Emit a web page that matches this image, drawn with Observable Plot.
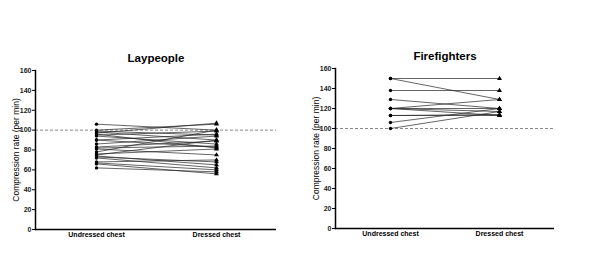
<!DOCTYPE html>
<html>
<head>
<meta charset="utf-8">
<script src="https://cdn.jsdelivr.net/npm/d3@7"></script>
<script src="https://cdn.jsdelivr.net/npm/@observablehq/plot@0.6"></script>
<style>
  html, body { margin: 0; padding: 0; background: white; }
  #wrap { position: relative; width: 600px; height: 277px; overflow: hidden; }
  #left, #right { position: absolute; top: 0; }
  #left { left: 0; }
  #right { left: 300px; }
</style>
</head>
<body>
<div id="wrap"><div id="left"></div><div id="right"></div></div>
<script>
const categories = ["Undressed chest", "Dressed chest"];
const yTicks = [0, 20, 40, 60, 80, 100, 120, 140, 160];
const yLabel = "Compression rate (per min)";
const refLine = 100;

const titleLay = "Laypeople";
const layUndressed = [106, 100, 99, 98, 97, 96, 95, 94, 90, 90, 86, 83, 82, 81, 78, 76, 75, 74, 73, 72, 68, 67, 66, 62];
const layDressed   = [100, 106, 95, 90, 107, 82, 99, 86, 96, 83, 94, 89, 84, 75, 100, 81, 90, 65, 68, 62, 70, 60, 56, 58];

const titleFire = "Firefighters";
const fireUndressed = [150, 150, 138, 129, 120, 120, 120, 120, 113, 113, 106, 100];
const fireDressed   = [150, 129, 138, 120, 129, 117, 113, 120, 114, 113, 120, 117];

function panel({title, undressed, dressed, marginTop, marginBottom, marginRight}) {
  const rows = undressed.flatMap((u, i) => [
    {id: i, cond: categories[0], rate: u},
    {id: i, cond: categories[1], rate: dressed[i]}
  ]);
  return Plot.plot({
    width: 300, height: 277,
    marginLeft: 35, marginRight, marginTop, marginBottom,
    style: {fontFamily: "'Liberation Sans', Arial, sans-serif", background: "white", color: "black"},
    x: {type: "point", domain: categories, padding: 0.5, label: null},
    y: {domain: [0, 160], label: null},
    marks: [
      Plot.ruleY([refLine], {stroke: "#888", strokeWidth: 1, strokeDasharray: "3,2"}),
      Plot.line(rows, {x: "cond", y: "rate", z: "id", stroke: "#222", strokeWidth: 0.7}),
      Plot.dot(rows.filter(d => d.cond === categories[0]), {x: "cond", y: "rate", r: 1.7, fill: "black", symbol: "circle"}),
      Plot.dot(rows.filter(d => d.cond === categories[1]), {x: "cond", y: "rate", r: 1.8, fill: "black", symbol: "triangle"}),
      Plot.axisY({ticks: yTicks, tickSize: 3, tickPadding: 1, fontSize: 7, fontWeight: "bold", fill: "#222", label: null}),
      Plot.axisX({tickSize: 0, tickPadding: 3, fontSize: 7, fontWeight: "bold", label: null}),
      Plot.frame({anchor: "left", stroke: "black", strokeWidth: 1.5}),
      Plot.ruleY([0], {stroke: "black", strokeWidth: 1.5}),
      Plot.text([title], {frameAnchor: "top", textAnchor: "middle", lineAnchor: "middle", dy: -12, fontSize: 11.5, fontWeight: "bold"}),
      Plot.text([yLabel], {frameAnchor: "left", textAnchor: "middle", lineAnchor: "middle", dx: -19, rotate: -90, fontSize: 8.5})
    ]
  });
}

document.getElementById("left").append(panel({
  title: titleLay, undressed: layUndressed, dressed: layDressed,
  marginTop: 70, marginBottom: 48, marginRight: 24
}));
document.getElementById("right").append(panel({
  title: titleFire, undressed: fireUndressed, dressed: fireDressed,
  marginTop: 68, marginBottom: 49, marginRight: 46
}));
</script>
</body>
</html>
